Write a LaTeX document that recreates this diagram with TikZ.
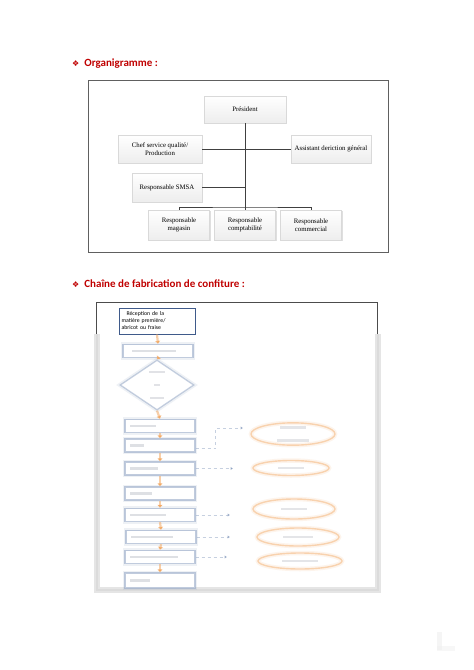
\documentclass[tikz,border=0pt]{standalone}
\usepackage{fontspec}
\setmainfont{Liberation Serif}
\newfontfamily\calfont{Carlito}
\newfontfamily\dvfont{DejaVu Sans}
\usetikzlibrary{shapes.geometric,shadows,arrows.meta}
\definecolor{titlered}{HTML}{C00000}
\definecolor{orgline}{HTML}{404040}
\definecolor{fblue}{HTML}{8EA2C2}
\definecolor{forange}{HTML}{F3A964}
\definecolor{smudge}{HTML}{C4C7CE}
\definecolor{navy}{HTML}{3F5A8A}
\newcommand{\smudgebar}[1]{\textcolor{smudge}{\rule{#1}{2.8pt}}}
\tikzset{
  titletext/.style={anchor=west, font=\calfont\bfseries\fontsize{11}{13}\selectfont, text=titlered, inner sep=0},
  orgbox/.style={rectangle, draw=gray!30, line width=0.4, top color=white, bottom color=gray!14,
     drop shadow={opacity=0.25, shadow xshift=1pt, shadow yshift=-1.2pt},
     font=\fontsize{6.8}{7.6}\selectfont, align=center, inner sep=1pt},
  orgconn/.style={draw=orgline, line width=0.8},
  fbox/.style={rectangle, draw=fblue, draw opacity=0.55, line width=1.3, fill=white,
     preaction={draw=fblue, draw opacity=0.15, line width=4.5},
     minimum width=70pt, minimum height=13pt, inner sep=0, align=left, text width=64pt},
  fdiam/.style={diamond, draw=fblue, draw opacity=0.5, line width=1.3, fill=white,
     preaction={draw=fblue, draw opacity=0.15, line width=4.5},
     minimum width=74pt, minimum height=50pt, inner sep=0, align=center},
  fell/.style={ellipse, draw=forange, draw opacity=0.45, line width=1.4,
     preaction={draw=forange, draw opacity=0.12, line width=4.5}, inner sep=0, align=center},
  farrow/.style={draw=forange, draw opacity=0.55, line width=2.2, -{Triangle[length=3pt,width=5pt]}},
  fconn/.style={draw=fblue, draw opacity=0.5, line width=0.7, dashed, -{Triangle[length=2.5pt,width=3pt]}},
}
\begin{document}
\begin{tikzpicture}[x=1pt,y=-1pt]
\useasboundingbox[fill=white] (0,0) rectangle (474,670);

% ---- Title 1
\node[titletext] (t1) at (72,64) {{\dvfont\mdseries\fontsize{8}{8}\selectfont ❖}\hspace{5pt}Organigramme :};

% ---- Org chart frame
\node[draw=gray!75!black, line width=0.9, minimum width=300pt, minimum height=172pt, inner sep=0] (orgframe) at (238,166) {};

\node[orgbox, minimum width=82pt, minimum height=27pt] (pres) at (245,109.5) {Président};
\node[orgbox, minimum width=84pt, minimum height=28pt] (chef) at (160,149) {Chef service qualité/\\Production};
\node[orgbox, minimum width=80pt, minimum height=28pt] (assist) at (331,149) {Assistant deriction général};
\node[orgbox, minimum width=70pt, minimum height=29pt] (smsa) at (167,187.5) {Responsable SMSA};
\node[orgbox, minimum width=61pt, minimum height=30pt] (mag) at (179,225) {Responsable\\magasin};
\node[orgbox, minimum width=61pt, minimum height=30pt] (compt) at (245,225) {Responsable\\comptabilité};
\node[orgbox, minimum width=61pt, minimum height=30pt] (comm) at (311,225) {Responsable\\commercial};

\coordinate (bus) at (245,207);
\coordinate (mid2) at (245,187.5);
\draw[orgconn] (pres.south) -- (bus);
\draw[orgconn] (mag.north) |- (bus) -| (comm.north);
\draw[orgconn] (compt.north) -- (bus);
\draw[orgconn] (chef.east) -- (assist.west);
\draw[orgconn] (smsa.east) -- (mid2);

% ---- Title 2
\node[titletext] (t2) at (72,284) {{\dvfont\mdseries\fontsize{8}{8}\selectfont ❖}\hspace{5pt}Chaîne de fabrication de confiture :};

% ---- Flow frame (crisp top part)
\draw[draw=gray!60!black, line width=0.8] (96,334) -- (96,302) -- (377,302) -- (377,334);
% blurred lower part
\draw[draw=gray!20, line width=6] (97,334) -- (97,590) -- (378,590) -- (378,334);
\draw[draw=gray!28, line width=2] (97,334) -- (97,590) -- (378,590) -- (378,334);

% first crisp box
\node[draw=navy, line width=0.8, fill=white, minimum width=76pt, minimum height=26pt, inner sep=1.5pt,
      align=left, text width=71pt, font=\calfont\fontsize{5.8}{7}\selectfont] (b1) at (157,321)
      {\hspace{5pt}Réception de la\\matière première/\\abricot ou fraise};

% blurred boxes
\node[fbox] (b2) at (158,351) {\hspace{6pt}\smudgebar{44pt}};
\node[fdiam] (d1) at (157,385) {\smudgebar{16pt}\\[1pt]\smudgebar{6pt}\\[1pt]\smudgebar{14pt}};
\node[fbox] (b3) at (160,426) {\hspace{2pt}\smudgebar{26pt}};
\node[fbox] (b4) at (160,445.5) {\hspace{2pt}\smudgebar{14pt}};
\node[fbox] (b5) at (160,468.5) {\hspace{2pt}\smudgebar{28pt}};
\node[fbox] (b6) at (160,493.5) {\hspace{2pt}\smudgebar{22pt}};
\node[fbox] (b7) at (160,515) {\hspace{2pt}\smudgebar{36pt}};
\node[fbox] (b8) at (161,537) {\hspace{2pt}\smudgebar{42pt}};
\node[fbox] (b9) at (160,557) {\hspace{2pt}\smudgebar{48pt}};
\node[fbox, minimum height=15pt] (b10) at (160,580.5) {\hspace{2pt}\smudgebar{20pt}};

\draw[farrow] (b1.south) -- (b2.north);
\draw[farrow] (b2.south) -- (d1.north);
\draw[farrow] (d1.south) -- (b3.north);
\draw[farrow] (b3.south) -- (b4.north);
\draw[farrow] (b4.south) -- (b5.north);
\draw[farrow] (b5.south) -- (b6.north);
\draw[farrow] (b6.south) -- (b7.north);
\draw[farrow] (b7.south) -- (b8.north);
\draw[farrow] (b8.south) -- (b9.north);
\draw[farrow] (b9.south) -- (b10.north);

% ellipses
\node[fell, minimum width=84pt, minimum height=22pt] (e1) at (293,434) {\smudgebar{26pt}\\[1pt]\smudgebar{32pt}};
\node[fell, minimum width=76pt, minimum height=15pt] (e2) at (291,468) {\smudgebar{26pt}};
\node[fell, minimum width=82pt, minimum height=20pt] (e3) at (294,509) {\smudgebar{26pt}};
\node[fell, minimum width=82pt, minimum height=18pt] (e4) at (298,537) {\smudgebar{30pt}};
\node[fell, minimum width=84pt, minimum height=16pt] (e5) at (300,561) {\smudgebar{36pt}};

% dashed connectors
\coordinate (c1) at (243,428);
\coordinate (c2) at (233,468.5);
\coordinate (c3) at (230,515);
\coordinate (c4) at (230,537);
\coordinate (c5) at (227,557);
\draw[fconn] ([yshift=-3pt]b4.east) -- ++(20,0) |- (c1);
\draw[fconn] (b5.east) -- (c2);
\draw[fconn] (b7.east) -- (c3);
\draw[fconn] (b8.east) -- (c4);
\draw[fconn] (b9.east) -- (c5);

% faint mark bottom right
\fill[gray!15, opacity=0.5] (437,632) rectangle (442,650);
\fill[gray!12, opacity=0.5] (437,646) rectangle (455,651);
\end{tikzpicture}
\end{document}
